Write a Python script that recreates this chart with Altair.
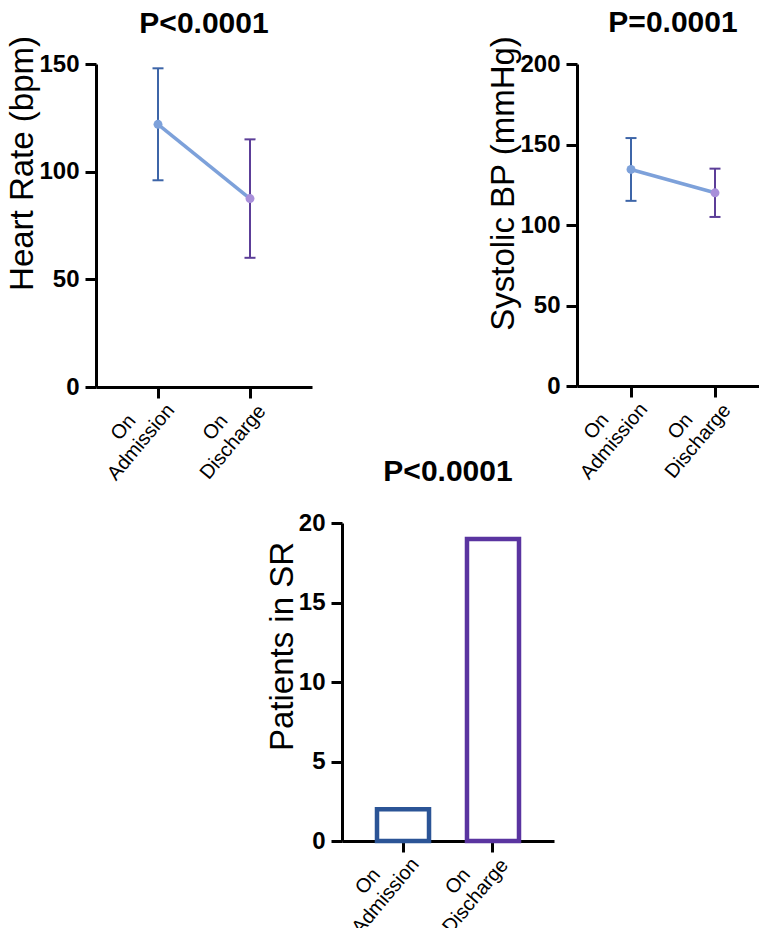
import altair as alt
import pandas as pd

categories = ["On Admission", "On Discharge"]

hr_mean = [122, 87.5]
hr_low = [96, 60]
hr_high = [148, 115]

sbp_mean = [134.5, 120]
sbp_low = [115, 105]
sbp_high = [154, 135]

sr_count = [2, 19]

hr_ticks = [0, 50, 100, 150]
sbp_ticks = [0, 50, 100, 150, 200]
sr_ticks = [0, 5, 10, 15, 20]

titles = ["P<0.0001", "P=0.0001", "P<0.0001"]

FONT = "Liberation Sans"
point_colors = ["#7DA1DA", "#A88FDA"]
err_colors = ["#3D65A8", "#5C3E98"]
bar_colors = ["#2B5496", "#5A34A0"]
line_color = "#7DA1DA"

label_expr = "['On', substring(datum.label, 3)]"

x_axis = alt.Axis(
    title=None, labelAngle=310, labelAlign="center", labelBaseline="middle",
    labelFontSize=20, labelFontWeight="normal", labelExpr=label_expr,
    labelPadding=29, labelOffset=-35, labelLineHeight=23,
)


def y_axis(title, ticks, ty):
    return alt.Axis(
        title=title, values=ticks, labelFontSize=24, labelFontWeight="bold",
        labelPadding=6, titleFontSize=33, titleFontWeight="normal", titlePadding=-1,
        titleY=ty,
    )


def line_panel(mean, low, high, ytitle, ticks, ymax, width, height, pad, title, toff, ty):
    df = pd.DataFrame({"cat": categories, "mean": mean, "low": low, "high": high})
    xs = alt.X("cat:N", sort=categories, scale=alt.Scale(type="point", padding=pad), axis=x_axis)
    ys = alt.Scale(domain=[0, ymax], nice=False, zero=True)
    ya = y_axis(ytitle, ticks, ty)
    err_c = alt.Color("cat:N", scale=alt.Scale(domain=categories, range=err_colors), legend=None)
    pt_c = alt.Color("cat:N", scale=alt.Scale(domain=categories, range=point_colors), legend=None)
    base = alt.Chart(df)
    rule = base.mark_rule(strokeWidth=2).encode(
        x=xs, y=alt.Y("low:Q", scale=ys, axis=ya), y2="high:Q", color=err_c)
    cap_lo = base.mark_tick(size=11, thickness=2, opacity=1).encode(
        x=xs, y=alt.Y("low:Q", scale=ys, axis=ya), color=err_c)
    cap_hi = base.mark_tick(size=11, thickness=2, opacity=1).encode(
        x=xs, y=alt.Y("high:Q", scale=ys, axis=ya), color=err_c)
    line = base.mark_line(color=line_color, strokeWidth=3.5).encode(
        x=xs, y=alt.Y("mean:Q", scale=ys, axis=ya))
    pts = base.mark_circle(size=80, opacity=1).encode(
        x=xs, y=alt.Y("mean:Q", scale=ys, axis=ya), color=pt_c)
    return alt.layer(rule, cap_lo, cap_hi, line, pts).resolve_scale(color="independent").properties(
        width=width, height=height,
        title=alt.TitleParams(title, offset=toff))


p1 = line_panel(hr_mean, hr_low, hr_high, "Heart Rate (bpm)", hr_ticks, 150, 216, 323, 0.674,
                titles[0], -3, 99)
p2 = line_panel(sbp_mean, sbp_low, sbp_high, "Systolic BP (mmHg)", sbp_ticks, 200, 192, 322, 0.643,
                titles[1], -3, 119)

df3 = pd.DataFrame({"cat": categories, "n": sr_count})
p3 = alt.Chart(df3).mark_bar(fill="white", strokeWidth=4.5).encode(
    x=alt.X("cat:N", sort=categories,
            scale=alt.Scale(type="band", paddingInner=0.422, paddingOuter=0.389), axis=x_axis),
    y=alt.Y("n:Q", scale=alt.Scale(domain=[0, 20], nice=False),
            axis=y_axis("Patients in SR", sr_ticks, 123)),
    stroke=alt.Stroke("cat:N", scale=alt.Scale(domain=categories, range=bar_colors), legend=None),
).properties(width=212, height=318, title=alt.TitleParams(titles[2], offset=24))


def spacer(w):
    return alt.Chart(pd.DataFrame({"a": [0]})).mark_point(opacity=0).encode(
        x=alt.X("a:Q", axis=None), y=alt.Y("a:Q", axis=None)
    ).properties(width=w, height=1)


chart = alt.concat(
    p1, spacer(1), p2, spacer(223), p3,
    columns=3, spacing={"row": 136, "column": 23}, bounds="flush",
).properties(
    padding={"left": -2, "top": 0, "right": -10, "bottom": -10}, background="white",
).configure_view(stroke=None).configure_axis(
    domainWidth=3, domainColor="black", tickWidth=3, tickColor="black", tickSize=11,
    labelColor="black", titleColor="black", labelFont=FONT, titleFont=FONT, grid=False, zindex=1,
).configure_title(
    font=FONT, fontSize=30, fontWeight="bold", color="black", anchor="middle", frame="group",
)

chart.save("out.html", embed_options={"renderer": "svg", "actions": False})
